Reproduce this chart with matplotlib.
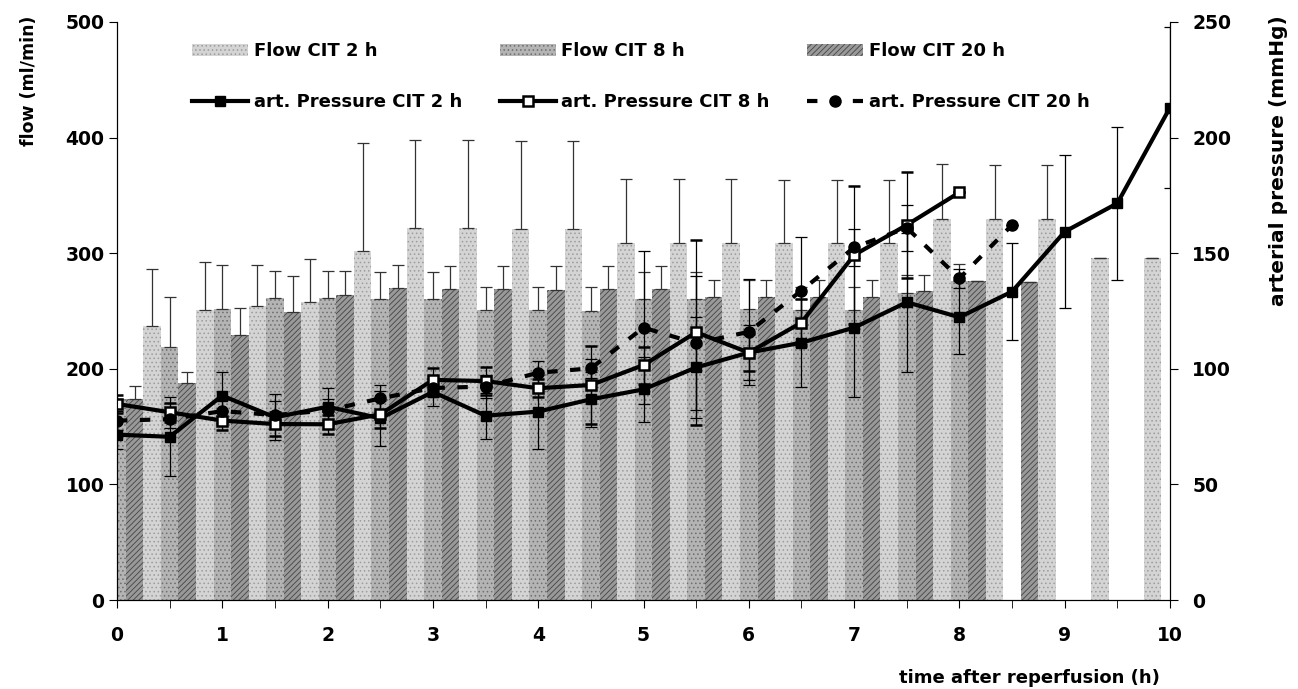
import numpy as np
import matplotlib.pyplot as plt

plt.rcParams['font.family'] = ['DejaVu Sans']
plt.rcParams['font.weight'] = 'bold'
plt.rcParams['hatch.linewidth'] = 0.6

# time points (h)
hours = [0, 0.5, 1, 1.5, 2, 2.5, 3, 3.5, 4, 4.5, 5, 5.5, 6, 6.5, 7, 7.5, 8, 8.5, 9, 9.5, 10]

# flow (ml/min), means and SD (upper error only)
flow_2h = [175, 237, 251, 254, 258, 302, 322, 322, 321, 321, 309, 309, 309, 309, 309, 309, 330, 330, 330, 296, 296]
flow_2h_sd = [10, 49, 41, 36, 37, 93, 76, 76, 76, 76, 55, 55, 55, 54, 54, 54, 47, 46, 46, 0, 0]
flow_8h = [174, 219, 252, 261, 261, 260, 260, 251, 251, 250, 260, 260, 252, 251, 251, 266, 276,
           np.nan, np.nan, np.nan, np.nan]
flow_8h_sd = [0, 43, 38, 24, 24, 24, 24, 20, 20, 21, 24, 24, 25, 20, 20, 15, 15, 0, 0, 0, 0]
flow_20h = [174, 188, 229, 249, 264, 270, 269, 269, 268, 269, 269, 262, 262, 262, 262, 267, 276, 275,
            np.nan, np.nan, np.nan]
flow_20h_sd = [11, 9, 24, 31, 21, 20, 20, 20, 21, 20, 20, 15, 15, 15, 15, 14, 0, 0, 0, 0, 0]

# arterial pressure (mmHg)
pres_2h = [71.5, 70.6, 88.4, 79, 83.6, 78.6, 90, 79.7, 81.5, 86.8, 91.1, 100.6, 107, 111.3, 117.8,
           128.8, 122.3, 133.4, 159.3, 171.6, 213]
pres_2h_sd = [6, 17, 10, 10, 8, 12, 6, 10, 16, 12, 14, 22, 12, 19, 30, 30, 16, 21, 33, 33, 35]
pres_8h = [84.8, 81.2, 77.6, 76.1, 76, 80.3, 95.2, 94.7, 91.6, 93, 101.6, 115.8, 107, 120, 149.2, 162.2, 176.3]
pres_8h_sd = [4, 4, 4, 5, 4, 6, 5, 6, 4, 17, 8, 40, 8, 10, 30, 23, 0]
pres_20h = [77.6, 78.2, 81.7, 80, 82, 87.2, 91.7, 92.3, 98.3, 100.2, 117.8, 111, 116, 133.8, 152.5, 161,
            139.1, 162.2]
pres_20h_sd = [4, 4, 5, 6, 5, 6, 4, 5, 5, 4, 33, 29, 23, 23, 8, 10, 4, 0]

x = np.array(hours)
w = 0.5 / 3

fig = plt.figure(figsize=(12.98, 6.89), dpi=100)
ax = fig.add_axes([117 / 1298, 89 / 689, 1053 / 1298, 578 / 689])

ekw = dict(ecolor='#333333', elinewidth=0.9, capsize=4, capthick=0.9)
zeros = np.zeros(len(x))
b2 = ax.bar(x - w, flow_2h, w, yerr=[zeros, flow_2h_sd], color='#d4d4d4', edgecolor='#9c9c9c',
            hatch='....', linewidth=0, error_kw=ekw)
b8 = ax.bar(x, flow_8h, w, yerr=[zeros, flow_8h_sd], color='#b4b4b4', edgecolor='#6e6e6e',
            hatch='....', linewidth=0, error_kw=ekw)
b20 = ax.bar(x + w, flow_20h, w, yerr=[zeros, flow_20h_sd], color='#999999', edgecolor='#444444',
             hatch='//////', linewidth=0, error_kw=ekw)

ax.set_xlim(0, 10)
ax.set_ylim(0, 500)
ax.set_xticks(range(11))
ax.set_xticks(x, minor=True)
ax.set_yticks(range(0, 501, 100))
ax.tick_params(axis='x', which='both', length=6, direction='out', pad=13, labelsize=13.5)
ax.tick_params(axis='y', length=6, direction='out', pad=3, labelsize=13.5)
ax.spines['top'].set_visible(False)

ax2 = ax.twinx()
ax2.set_ylim(0, 250)
ax2.set_yticks(range(0, 251, 50))
ax2.tick_params(axis='y', length=6, direction='out', pad=10, labelsize=13.5)
ax2.spines['top'].set_visible(False)

e2 = ax2.errorbar(hours, pres_2h, yerr=pres_2h_sd, fmt='-s', color='black', lw=3, ms=7.5,
                  ecolor='black', elinewidth=0.9, capsize=4, capthick=0.9)
e8 = ax2.errorbar(hours[:len(pres_8h)], pres_8h, yerr=pres_8h_sd, fmt='-s', color='black', lw=3, ms=7.5,
                  mfc='white', mec='black', mew=1.8, ecolor='black', elinewidth=0.9, capsize=4, capthick=0.9)
e20 = ax2.errorbar(hours[:len(pres_20h)], pres_20h, yerr=pres_20h_sd, fmt='o', color='black', ms=8,
                   ecolor='black', elinewidth=0.9, capsize=4, capthick=0.9)
e20[0].set_linestyle((0, (2.5, 3)))
e20[0].set_linewidth(3)

handles = [b2, e2[0], b8, e8[0], b20, e20[0]]
labels = ['Flow CIT 2 h', 'art. Pressure CIT 2 h', 'Flow CIT 8 h', 'art. Pressure CIT 8 h',
          'Flow CIT 20 h', 'art. Pressure CIT 20 h']
ax2.legend(handles, labels, ncol=3, frameon=False, loc='upper left',
           bbox_to_anchor=(176 / 1298, 1 - 26 / 689), bbox_transform=fig.transFigure,
           fontsize=13, handlelength=3.1, handletextpad=0.3, columnspacing=2.1, labelspacing=1.83)

fig.text(29 / 1298, 1 - 16 / 689, 'flow (ml/min)', rotation=90, ha='center', va='top', fontsize=12.5)
fig.text(1278 / 1298, 1 - 15 / 689, 'arterial pressure (mmHg)', rotation=90, ha='center', va='top', fontsize=14.5)
fig.text(1160 / 1298, 1 - 678 / 689, 'time after reperfusion (h)', ha='right', va='center', fontsize=13)

fig.savefig('out.png', dpi=100)
